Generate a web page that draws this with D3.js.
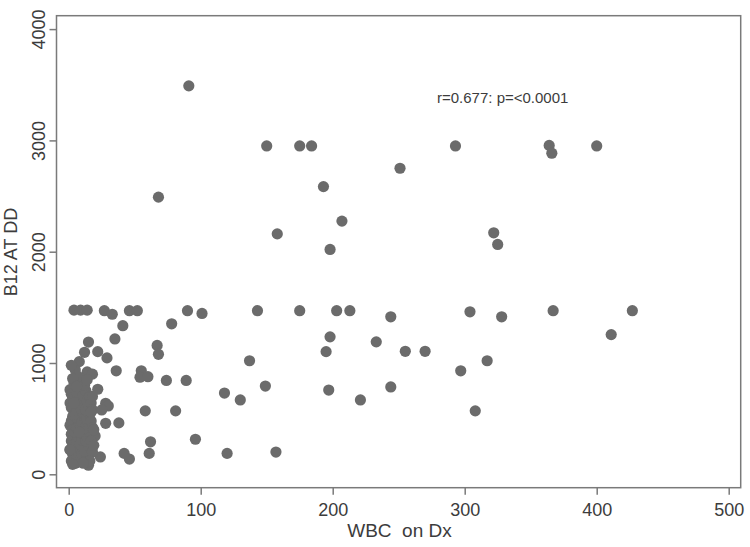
<!DOCTYPE html>
<html>
<head>
<meta charset="utf-8">
<script src="https://cdn.jsdelivr.net/npm/d3@7"></script>
<style>
  body { margin: 0; background: #fff; }
  svg { display: block; }
  text { font-family: "Liberation Sans", Arial, sans-serif; fill: #3c3c3c; }
</style>
</head>
<body>
<svg id="chart" width="750" height="547"></svg>
<script>
// values: WBC on Dx vs B12 at DD
let xTicks = [0, 100, 200, 300, 400, 500]
let yTicks = [0, 1000, 2000, 3000, 4000]
let xTitle = "WBC  on Dx"
let yTitle = "B12 AT DD"
let note = "r=0.677: p=<0.0001"

// the scattered points, outside the big cluster near zero
let wbcSpread = [91, 150, 175, 184, 293, 364, 366, 400, 251, 193, 68, 207, 158, 198, 322, 325,
    4, 9, 14, 27, 33, 46, 52, 90, 101, 143, 175, 203, 213, 244, 304, 328, 367, 427, 411,
    41, 78, 35, 15, 12, 22, 29, 8, 5, 14, 36, 55, 54, 60, 67, 68, 74, 89,
    198, 233, 195, 255, 270, 137, 317, 297, 308,
    118, 130, 149, 197, 244, 221, 58, 81, 28, 38, 96, 62, 61, 42, 46, 24, 120, 157,
    18, 22, 28, 30, 25, 20, 15]
let b12Spread = [3490, 2950, 2950, 2950, 2950, 2955, 2885, 2950, 2750, 2585, 2490, 2275, 2160, 2020, 2170, 2065,
    1475, 1475, 1475, 1470, 1438, 1470, 1470, 1470, 1445, 1470, 1470, 1470, 1470, 1415, 1460, 1415, 1470, 1470, 1255,
    1335, 1352, 1216, 1188, 1096, 1102, 1046, 1012, 937, 920, 930, 930, 872, 877, 1158, 1078, 843, 843,
    1235, 1190, 1102, 1105, 1105, 1020, 1020, 930, 570,
    730, 668, 793, 757, 785, 668, 570, 570, 458, 462, 315, 292, 188, 188, 137, 156, 188, 200,
    900, 764, 638, 614, 578, 344, 82]

// the crowded cluster at WBC below 20
let wbcCluster = [1, 2, 3, 1, 2, 4, 3, 2, 1, 3, 2, 4, 2, 3, 1, 3, 4, 2, 5, 6, 7, 5, 6, 7, 5, 6, 8, 7, 5, 6,
    8, 7, 5, 6, 8, 9, 10, 7, 9, 10, 11, 9, 10, 12, 11, 9, 10, 12, 11, 9, 10, 12, 11, 13, 12, 14,
    13, 14, 12, 15, 13, 14, 16, 13, 15, 14, 16, 13, 15, 14, 16, 17, 18, 17, 18, 17, 18, 16, 17,
    4, 8, 11, 4, 3, 2, 6, 1, 3, 19, 19, 18]
let b12Cluster = [760, 720, 690, 640, 600, 560, 520, 480, 440, 400, 360, 330, 300, 260, 220, 180, 140, 120, 100,
    150, 200, 250, 290, 340, 380, 420, 460, 500, 540, 580, 620, 660, 700, 740, 780, 820, 860, 880,
    130, 180, 230, 270, 310, 350, 390, 430, 470, 510, 550, 590, 630, 670, 710, 750, 800, 850,
    110, 160, 210, 260, 300, 340, 380, 420, 460, 500, 540, 580, 620, 660, 700, 640, 580, 480, 420,
    300, 200, 120, 560, 640, 380, 100, 820, 860, 980, 790, 220, 90, 260, 400, 700]

let points = wbcSpread.map((w, i) => ({ w: w, b: b12Spread[i] }))
    .concat(wbcCluster.map((w, i) => ({ w: w, b: b12Cluster[i] })))

let svg = d3.select("#chart")
let frame = { left: 56.5, top: 15.7, right: 740.7, bottom: 487.7 }

let x = d3.scaleLinear().domain([0, 500]).range([68.7, 728.7])
let y = d3.scaleLinear().domain([0, 4000]).range([474.3, 29.1])

// plot box
svg.append("rect")
    .attr("x", frame.left).attr("y", frame.top)
    .attr("width", frame.right - frame.left)
    .attr("height", frame.bottom - frame.top)
    .attr("fill", "none")
    .attr("stroke", "#7a7a7a")
    .attr("stroke-width", 1.5)

// x axis (ticks hang below the box)
let gx = svg.append("g")
    .attr("transform", `translate(0,${frame.bottom})`)
    .call(d3.axisBottom(x).tickValues(xTicks).tickSize(7).tickPadding(9).tickFormat(d3.format("d")))
gx.select(".domain").remove()
gx.selectAll("line").attr("stroke", "#7a7a7a").attr("stroke-width", 1.5)
gx.selectAll("text").attr("font-size", 18).attr("fill", "#3c3c3c")
    .attr("font-family", "Liberation Sans, Arial, sans-serif")

// y axis, labels turned like the reference
let gy = svg.append("g")
    .attr("transform", `translate(${frame.left},0)`)
    .call(d3.axisLeft(y).tickValues(yTicks).tickSize(7).tickFormat(d3.format("d")))
gy.select(".domain").remove()
gy.selectAll("line").attr("stroke", "#7a7a7a").attr("stroke-width", 1.5)
gy.selectAll("text")
    .attr("font-size", 18).attr("fill", "#3c3c3c")
    .attr("font-family", "Liberation Sans, Arial, sans-serif")
    .attr("x", null).attr("dy", null)
    .attr("text-anchor", "middle")
    .attr("transform", "translate(-11.5,0) rotate(-90)")

// titles
svg.append("text")
    .attr("x", 399.5).attr("y", 537)
    .attr("text-anchor", "middle")
    .attr("font-size", 19)
    .style("white-space", "pre")
    .text(xTitle)

svg.append("text")
    .attr("transform", "translate(17,252) rotate(-90)")
    .attr("text-anchor", "middle")
    .attr("font-size", 18)
    .text(yTitle)

// dots
svg.append("g").selectAll("circle")
    .data(points)
    .join("circle")
    .attr("cx", d => x(d.w))
    .attr("cy", d => y(d.b))
    .attr("r", 5.6)
    .attr("fill", "#6b6b6b")

// correlation note
svg.append("text")
    .attr("x", 437).attr("y", 103)
    .attr("font-size", 15)
    .attr("fill", "#4a4a4a")
    .text(note)
</script>
</body>
</html>
